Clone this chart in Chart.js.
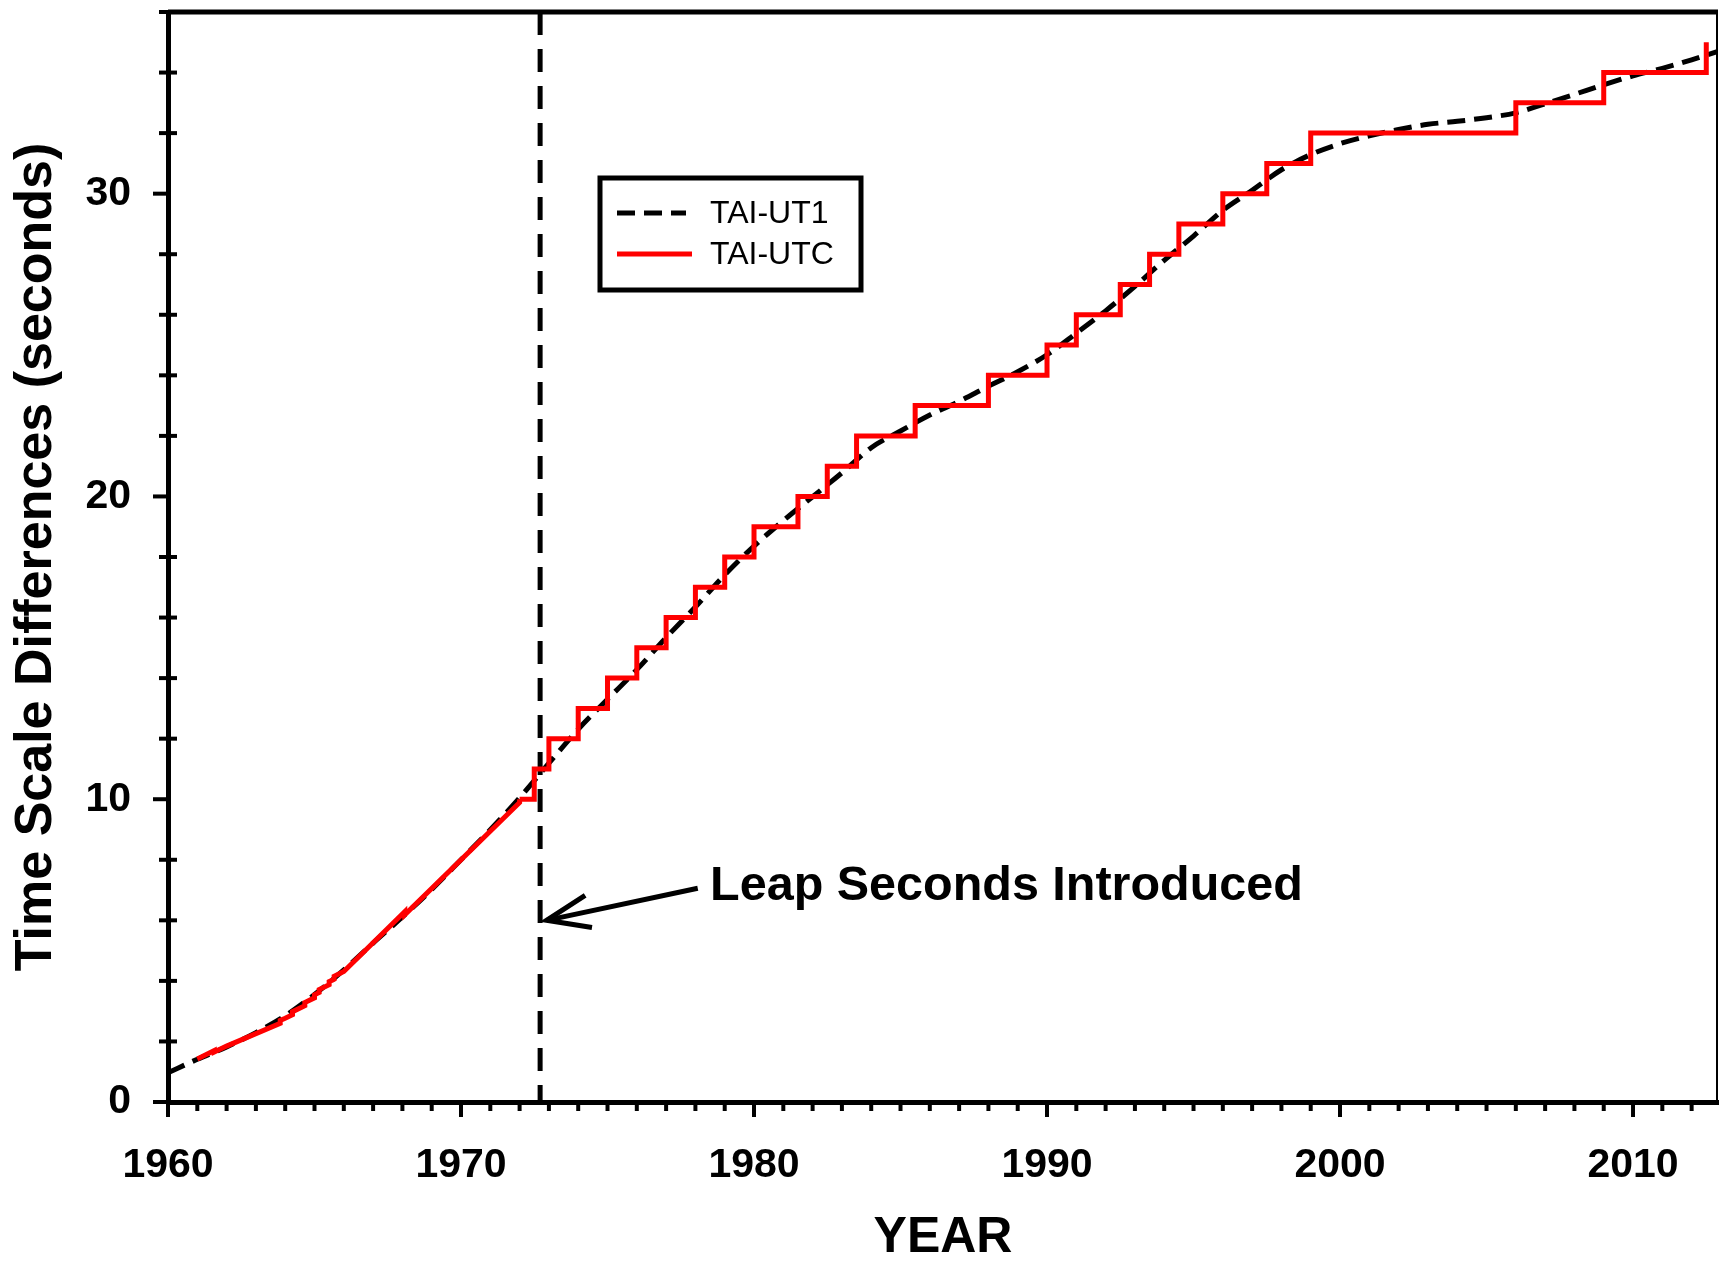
<!DOCTYPE html>
<html>
<head>
<meta charset="utf-8">
<script src="https://cdn.jsdelivr.net/npm/chart.js@4/dist/chart.umd.min.js"></script>
<style>
html,body{margin:0;padding:0;background:#fff;}
#wrap{width:1720px;height:1262px;position:relative;}
</style>
</head>
<body>
<div id="wrap"><canvas id="c" width="1720" height="1262"></canvas></div>
<script>
// ---------------- DATA ----------------
// TAI-UT1 (seconds), yearly
const ut1Years = [1960,1961,1962,1963,1964,1965,1966,1967,1968,1969,1970,1971,1972,1973,1974,1975,1976,1977,1978,1979,1980,1981,1982,1983,1984,1985,1986,1987,1988,1989,1990,1991,1992,1993,1994,1995,1996,1997,1998,1999,2000,2001,2002,2003,2004,2005,2006,2007,2008,2009,2010,2011,2012,2013];
const ut1Values = [0.97,1.41,1.82,2.29,2.85,3.55,4.36,5.25,6.11,7.02,8.00,8.99,10.05,11.19,12.31,13.30,14.28,15.34,16.35,17.41,18.36,19.20,19.99,20.78,21.61,22.16,22.69,23.14,23.64,24.12,24.68,25.39,26.13,26.94,27.80,28.60,29.45,30.11,30.79,31.29,31.65,31.91,32.12,32.29,32.39,32.51,32.67,32.97,33.28,33.60,33.89,34.14,34.42,34.73];

// TAI-UTC before leap seconds (drifting UTC, with small step adjustments)
const utcDriftYears  = [1961.0,1961.58,1961.58,1962.0,1963.83,1963.83,1964.0,1964.25,1964.25,1964.67,1964.67,1965.0,1965.0,1965.16,1965.16,1965.5,1965.5,1965.67,1965.67,1966.0,1968.08,1968.08,1972.0,1972.0];
const utcDriftValues = [1.423,1.698,1.648,1.846,2.597,2.697,2.766,2.884,2.984,3.182,3.282,3.440,3.540,3.617,3.717,3.875,3.975,4.055,4.155,4.313,6.286,6.186,9.892,10.0];

// TAI-UTC after 1972: value taking effect at each date (leap seconds)
const leapYears  = [1972.0,1972.5,1973.0,1974.0,1975.0,1976.0,1977.0,1978.0,1979.0,1980.0,1981.5,1982.5,1983.5,1985.5,1988.0,1990.0,1991.0,1992.5,1993.5,1994.5,1996.0,1997.5,1999.0,2006.0,2009.0,2012.5];
const leapValues = [10,11,12,13,14,15,16,17,18,19,20,21,22,23,24,25,26,27,28,29,30,31,32,33,34,35];

// tick labels
const xTickLabels = ['1960','1970','1980','1990','2000','2010'];
const yTickLabels = ['0','10','20','30'];

// annotation (data units)
const leapIntroYear = 1972.7;
const annotationText = 'Leap Seconds Introduced';
const arrowTip = [1972.92, 6.0];
const arrowTail = [1978.08, 7.06];
const annotationAt = [1978.5, 7.12];

const seriesNames = ['TAI-UT1', 'TAI-UTC'];

// ---------------- CHART ----------------
const FONT = '"Liberation Sans", Arial, Helvetica, sans-serif';
const RED = '#ff0000';
const LW = 5;

const decor = {
  id: 'decor',
  beforeDatasetsDraw(chart) {
    const {ctx, chartArea: a, scales: {x}} = chart;
    const px = x.getPixelForValue(leapIntroYear);
    ctx.save();
    ctx.strokeStyle = '#000';
    ctx.lineWidth = LW;
    ctx.setLineDash([23, 14]);
    ctx.beginPath();
    ctx.moveTo(px, a.top);
    ctx.lineTo(px, a.bottom);
    ctx.stroke();
    ctx.restore();
  },
  afterDraw(chart) {
    const {ctx, chartArea: a, scales: {x, y}} = chart;
    ctx.save();
    ctx.strokeStyle = '#000';
    ctx.setLineDash([]);
    // frame top / right
    ctx.lineWidth = LW;
    ctx.beginPath(); ctx.moveTo(a.left, a.top); ctx.lineTo(a.right, a.top); ctx.stroke();
    ctx.lineWidth = 2;
    ctx.beginPath(); ctx.moveTo(a.right - 1, a.top); ctx.lineTo(a.right - 1, a.bottom); ctx.stroke();
    // x ticks (every year, major every decade)
    ctx.lineWidth = 4;
    for (let yr = Math.ceil(x.min); yr <= Math.floor(x.max); yr++) {
      const px = x.getPixelForValue(yr);
      const major = yr % 10 === 0;
      ctx.beginPath();
      ctx.moveTo(px, a.bottom);
      ctx.lineTo(px, a.bottom + (major ? 15 : 9));
      ctx.stroke();
    }
    // y ticks (every 2 s, major every 10 s)
    for (let v = y.min; v <= y.max; v += 2) {
      const py = y.getPixelForValue(v);
      const major = v % 10 === 0;
      ctx.beginPath();
      if (major) { ctx.moveTo(a.left - 15, py); ctx.lineTo(a.left, py); }
      else { ctx.moveTo(a.left - 9, py); ctx.lineTo(a.left + 9, py); }
      ctx.stroke();
    }
    // annotation arrow
    const tx = x.getPixelForValue(arrowTip[0]), ty = y.getPixelForValue(arrowTip[1]);
    const sx = x.getPixelForValue(arrowTail[0]), sy = y.getPixelForValue(arrowTail[1]);
    ctx.lineWidth = LW;
    ctx.beginPath(); ctx.moveTo(sx, sy); ctx.lineTo(tx, ty); ctx.stroke();
    const ang = Math.atan2(sy - ty, sx - tx);
    const hl = 46, ha = 21 * Math.PI / 180;
    ctx.beginPath();
    ctx.moveTo(tx + hl * Math.cos(ang - ha), ty + hl * Math.sin(ang - ha));
    ctx.lineTo(tx, ty);
    ctx.lineTo(tx + hl * Math.cos(ang + ha), ty + hl * Math.sin(ang + ha));
    ctx.stroke();
    ctx.fillStyle = '#000';
    ctx.font = 'bold 48.5px ' + FONT;
    ctx.textAlign = 'left';
    ctx.textBaseline = 'middle';
    ctx.fillText(annotationText, x.getPixelForValue(annotationAt[0]), y.getPixelForValue(annotationAt[1]));
    // legend
    const ds = chart.data.datasets;
    ctx.fillStyle = '#fff';
    ctx.fillRect(600, 178, 261, 112);
    ctx.lineWidth = LW;
    ctx.strokeStyle = '#000';
    ctx.strokeRect(600, 178, 261, 112);
    ctx.lineWidth = ds[2].borderWidth;
    ctx.strokeStyle = ds[2].borderColor;
    ctx.setLineDash(ds[2].borderDash);
    ctx.beginPath(); ctx.moveTo(617, 213); ctx.lineTo(686, 213); ctx.stroke();
    ctx.setLineDash([]);
    ctx.strokeStyle = ds[0].borderColor;
    ctx.lineWidth = ds[0].borderWidth;
    ctx.beginPath(); ctx.moveTo(617, 254); ctx.lineTo(692, 254); ctx.stroke();
    ctx.fillStyle = '#000';
    ctx.font = '32px ' + FONT;
    ctx.textBaseline = 'middle';
    ctx.fillText(seriesNames[0], 710, 214);
    ctx.fillText(seriesNames[1], 710, 255);
    ctx.restore();
  }
};

const toXY = (xs, ys) => xs.map((v, i) => ({x: v, y: ys[i]}));

new Chart(document.getElementById('c'), {
  type: 'line',
  data: {
    datasets: [
      {
        label: seriesNames[1],
        data: toXY(leapYears, leapValues),
        borderColor: RED, borderWidth: LW, stepped: 'before',
        pointRadius: 0, fill: false, borderJoinStyle: 'miter', borderCapStyle: 'butt'
      },
      {
        label: seriesNames[1] + ' (pre-1972)',
        data: toXY(utcDriftYears, utcDriftValues),
        borderColor: RED, borderWidth: LW, tension: 0,
        pointRadius: 0, fill: false, borderJoinStyle: 'miter', borderCapStyle: 'butt'
      },
      {
        label: seriesNames[0],
        data: toXY(ut1Years, ut1Values),
        borderColor: '#000', borderWidth: LW, borderDash: [18, 9],
        cubicInterpolationMode: 'monotone',
        pointRadius: 0, fill: false, borderCapStyle: 'butt'
      }
    ]
  },
  options: {
    responsive: false,
    animation: false,
    devicePixelRatio: 1,
    layout: { padding: {top: 12, right: 2, left: 0, bottom: 0}, autoPadding: false },
    plugins: { legend: {display: false}, tooltip: {enabled: false} },
    scales: {
      x: {
        type: 'linear', position: 'bottom', min: 1960, max: 2012.9,
        grid: {display: false, drawTicks: false, tickLength: 0},
        border: {display: true, color: '#000', width: LW},
        ticks: {
          stepSize: 10, includeBounds: false, autoSkip: false, maxRotation: 0, padding: 39, color: '#000',
          font: {family: FONT, size: 41, weight: 'bold', lineHeight: 1.2},
          callback: (v) => xTickLabels.includes(String(v)) ? String(v) : ''
        },
        title: {
          display: true, text: 'YEAR', color: '#000',
          font: {family: FONT, size: 50, weight: 'bold', lineHeight: 1},
          padding: {top: 0, bottom: -1.5}
        },
        afterFit: (s) => { s.height = 160; s.paddingLeft = 0; s.paddingRight = 0; }
      },
      y: {
        type: 'linear', position: 'left', min: 0, max: 36,
        grid: {display: false, drawTicks: false, tickLength: 0},
        border: {display: true, color: '#000', width: LW},
        ticks: {
          stepSize: 2, autoSkip: false, padding: 37, color: '#000',
          font: {family: FONT, size: 41, weight: 'bold', lineHeight: 1.2},
          callback: (v) => yTickLabels.includes(String(v)) ? String(v) : ''
        },
        title: {
          display: true, text: 'Time Scale Differences (seconds)', color: '#000',
          font: {family: FONT, size: 52, weight: 'bold', lineHeight: 1.2},
          padding: {top: 5, bottom: 0}
        },
        afterFit: (s) => { s.width = 168; s.paddingTop = 0; s.paddingBottom = 0; }
      }
    }
  },
  plugins: [decor]
});
</script>
</body>
</html>
